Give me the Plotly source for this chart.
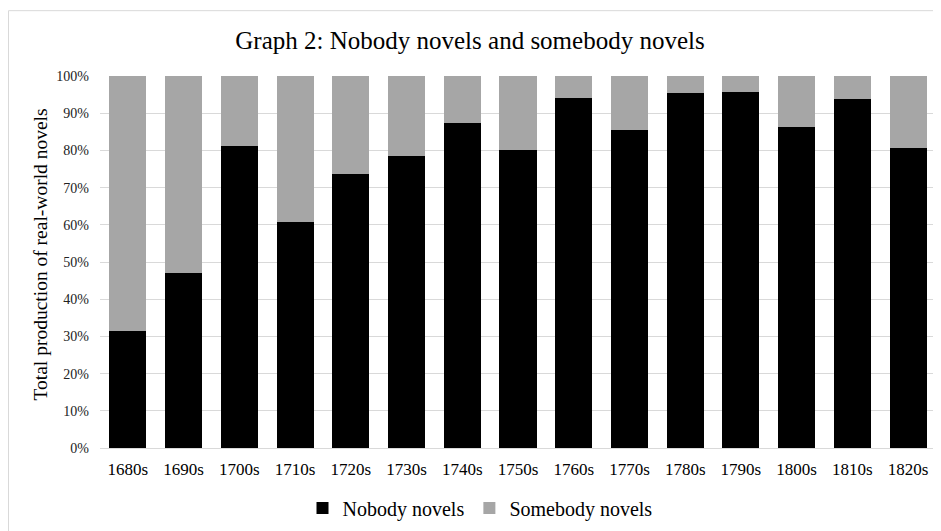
import plotly.graph_objects as go

decades = ["1680s", "1690s", "1700s", "1710s", "1720s", "1730s", "1740s", "1750s",
           "1760s", "1770s", "1780s", "1790s", "1800s", "1810s", "1820s"]
nobody = [0.315, 0.471, 0.812, 0.608, 0.737, 0.784, 0.874, 0.800,
          0.940, 0.854, 0.953, 0.956, 0.863, 0.937, 0.807]
somebody = [round(1 - v, 3) for v in nobody]

FONT = "Liberation Serif, Times New Roman, serif"

fig = go.Figure()
fig.add_trace(go.Bar(x=decades, y=nobody, name="Nobody novels", marker_color="#000000",
                     marker_line_width=0))
fig.add_trace(go.Bar(x=decades, y=somebody, name="Somebody novels", marker_color="#a6a6a6",
                     marker_line_width=0))

OFF = 8  # page body margin offset
W, H = 941 - OFF, 531 - OFF
L, R, T, B = 100 - OFF, 5, 76 - OFF, 82
pw, ph = W - L - R, H - T - B


def px_x(x):
    return (x - OFF - L) / pw


def px_y(y):
    return (H - B - (y - OFF)) / ph


fig.update_layout(
    width=W, height=H,
    barmode="stack",
    bargap=0.335,
    margin=dict(l=L, r=R, t=T, b=B),
    paper_bgcolor="white",
    plot_bgcolor="white",
    font=dict(family=FONT, color="#000000"),
    title=dict(text="Graph 2: Nobody novels and somebody novels",
               font=dict(family=FONT, size=25, color="#000000"),
               x=(470 - OFF) / W, xanchor="center", y=1 - (40 - OFF) / H, yanchor="middle"),
    legend=dict(orientation="h", x=px_x(480), xanchor="center", y=px_y(508), yanchor="middle",
                font=dict(family=FONT, size=20, color="#000000"), traceorder="normal",
                itemwidth=30),
    showlegend=True,
    xaxis=dict(showgrid=False, showline=True, linecolor="#d9d9d9", linewidth=1,
               tickfont=dict(family=FONT, size=17, color="#000000"), ticks="",
               ticklabelstandoff=6),
    yaxis=dict(range=[0, 1], tickformat=".0%", dtick=0.1, showgrid=True,
               gridcolor="#d9d9d9", gridwidth=1, zeroline=False,
               tickfont=dict(family=FONT, size=14, color="#222222"), ticks="",
               ticklabelstandoff=10),
    annotations=[dict(text="Total production of real-world novels", textangle=-90,
                      xref="paper", yref="paper", x=px_x(41), y=px_y(255),
                      xanchor="center", yanchor="middle", showarrow=False,
                      font=dict(family=FONT, size=19.5, color="#000000"))],
    shapes=[dict(type="rect", xref="paper", yref="paper",
                 x0=px_x(8.5), x1=px_x(945), y0=px_y(540), y1=px_y(10.5),
                 line=dict(color="#d9d9d9", width=1), fillcolor="rgba(0,0,0,0)", layer="below")],
)

fig.write_html("out.html")
